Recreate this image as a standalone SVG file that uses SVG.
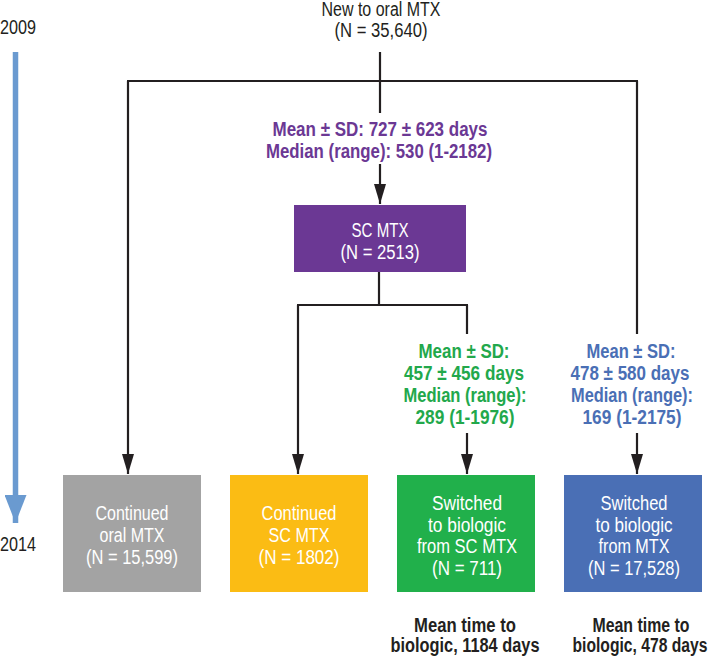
<svg xmlns="http://www.w3.org/2000/svg" width="710" height="657" viewBox="0 0 710 657">
<style>
.t{font-family:"Liberation Sans",Arial,sans-serif;font-size:20px;text-anchor:middle;fill:#231f20}
.b{font-weight:bold}
.w{fill:#ffffff}
.pu{fill:#6b3894}
.gn{fill:#22a84b}
.bl{fill:#4a6fb5}
.c{fill:none;stroke:#231f20;stroke-width:2.2}
</style>
<defs>
<marker id="ah" markerUnits="userSpaceOnUse" markerWidth="20" markerHeight="12" refX="20" refY="6" orient="auto">
<path d="M0,0 L20,6 L0,12 Z" fill="#231f20"/>
</marker>
<marker id="tl" markerUnits="userSpaceOnUse" markerWidth="28" markerHeight="22" refX="28" refY="11" orient="auto">
<path d="M0,0 L28,11 L0,22 Z" fill="#6a9ad0"/>
</marker>
</defs>
<rect width="710" height="657" fill="#ffffff"/>

<g id="timeline">
<path d="M15.5,52 V523" stroke="#6a9ad0" stroke-width="5.5" fill="none" marker-end="url(#tl)"/>
<text class="t" x="18" y="34" textLength="36" lengthAdjust="spacingAndGlyphs">2009</text>
<text class="t" x="18" y="551" textLength="36" lengthAdjust="spacingAndGlyphs">2014</text>
</g>

<g id="connectors">
<path class="c" d="M380,52 V113"/>
<path class="c" d="M380,164 V204" marker-end="url(#ah)"/>
<path class="c" d="M127,81 H638"/>
<path class="c" d="M128,81 V474" marker-end="url(#ah)"/>
<path class="c" d="M637,81 V334"/>
<path class="c" d="M637,433 V474" marker-end="url(#ah)"/>
<path class="c" d="M379,272 V305"/>
<path class="c" d="M297,305 H468"/>
<path class="c" d="M298,305 V474" marker-end="url(#ah)"/>
<path class="c" d="M467,305 V334"/>
<path class="c" d="M467,433 V474" marker-end="url(#ah)"/>
</g>

<g id="start">
<text class="t" x="381" y="15.5" textLength="119" lengthAdjust="spacingAndGlyphs">New to oral MTX</text>
<text class="t" x="381" y="37" textLength="93" lengthAdjust="spacingAndGlyphs">(N = 35,640)</text>
</g>

<g id="label-sc">
<text class="t b pu" x="380" y="136" textLength="215" lengthAdjust="spacingAndGlyphs">Mean ± SD: 727 ± 623 days</text>
<text class="t b pu" x="379" y="158" textLength="226" lengthAdjust="spacingAndGlyphs">Median (range): 530 (1-2182)</text>
</g>

<g id="sc-mtx">
<rect x="294" y="205" width="172" height="67" fill="#6b3894"/>
<text class="t w" x="380" y="237" textLength="57" lengthAdjust="spacingAndGlyphs">SC MTX</text>
<text class="t w" x="380" y="259" textLength="79" lengthAdjust="spacingAndGlyphs">(N = 2513)</text>
</g>

<g id="label-green">
<text class="t b gn" x="464" y="358" textLength="91" lengthAdjust="spacingAndGlyphs">Mean ± SD:</text>
<text class="t b gn" x="464" y="380" textLength="120" lengthAdjust="spacingAndGlyphs">457 ± 456 days</text>
<text class="t b gn" x="465" y="402" textLength="123" lengthAdjust="spacingAndGlyphs">Median (range):</text>
<text class="t b gn" x="465" y="424" textLength="99" lengthAdjust="spacingAndGlyphs">289 (1-1976)</text>
</g>

<g id="label-blue">
<text class="t b bl" x="631" y="358" textLength="89" lengthAdjust="spacingAndGlyphs">Mean ± SD:</text>
<text class="t b bl" x="630" y="380" textLength="119" lengthAdjust="spacingAndGlyphs">478 ± 580 days</text>
<text class="t b bl" x="632" y="402" textLength="122" lengthAdjust="spacingAndGlyphs">Median (range):</text>
<text class="t b bl" x="632" y="424" textLength="99" lengthAdjust="spacingAndGlyphs">169 (1-2175)</text>
</g>

<g id="continued-oral">
<rect x="63" y="475" width="138" height="117" fill="#a3a3a3"/>
<text class="t w" x="132" y="520" textLength="73" lengthAdjust="spacingAndGlyphs">Continued</text>
<text class="t w" x="132" y="542" textLength="65" lengthAdjust="spacingAndGlyphs">oral MTX</text>
<text class="t w" x="132" y="564" textLength="92" lengthAdjust="spacingAndGlyphs">(N = 15,599)</text>
</g>

<g id="continued-sc">
<rect x="230" y="475" width="138" height="117" fill="#fbbc14"/>
<text class="t w" x="299" y="520" textLength="75" lengthAdjust="spacingAndGlyphs">Continued</text>
<text class="t w" x="299" y="542" textLength="61" lengthAdjust="spacingAndGlyphs">SC MTX</text>
<text class="t w" x="299" y="564" textLength="81" lengthAdjust="spacingAndGlyphs">(N = 1802)</text>
</g>

<g id="switched-sc">
<rect x="397" y="475" width="138" height="117" fill="#21b04b"/>
<text class="t w" x="467" y="510" textLength="70" lengthAdjust="spacingAndGlyphs">Switched</text>
<text class="t w" x="467" y="532" textLength="78" lengthAdjust="spacingAndGlyphs">to biologic</text>
<text class="t w" x="467" y="553" textLength="100" lengthAdjust="spacingAndGlyphs">from SC MTX</text>
<text class="t w" x="467" y="575" textLength="70" lengthAdjust="spacingAndGlyphs">(N = 711)</text>
</g>

<g id="switched-mtx">
<rect x="564" y="475" width="138" height="117" fill="#4a6fb5"/>
<text class="t w" x="634" y="510" textLength="67" lengthAdjust="spacingAndGlyphs">Switched</text>
<text class="t w" x="634" y="532" textLength="77" lengthAdjust="spacingAndGlyphs">to biologic</text>
<text class="t w" x="634" y="553" textLength="71" lengthAdjust="spacingAndGlyphs">from MTX</text>
<text class="t w" x="634" y="575" textLength="92" lengthAdjust="spacingAndGlyphs">(N = 17,528)</text>
</g>

<g id="note-green">
<text class="t b" x="465" y="632" textLength="102" lengthAdjust="spacingAndGlyphs">Mean time to</text>
<text class="t b" x="465" y="652" textLength="149" lengthAdjust="spacingAndGlyphs">biologic, 1184 days</text>
</g>

<g id="note-blue">
<text class="t b" x="641" y="632" textLength="97" lengthAdjust="spacingAndGlyphs">Mean time to</text>
<text class="t b" x="640" y="652" textLength="135" lengthAdjust="spacingAndGlyphs">biologic, 478 days</text>
</g>
</svg>
